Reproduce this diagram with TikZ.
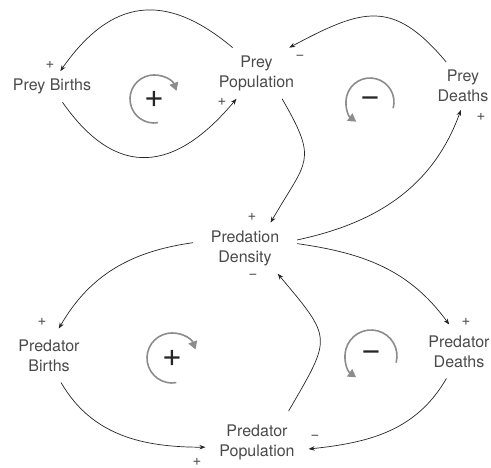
\documentclass[tikz,border=0pt]{standalone}
\usepackage{fontspec}
\setmainfont{TeX Gyre Heros}
\definecolor{TextGray}{HTML}{4A4A4A}
\definecolor{LoopGray}{HTML}{8C8C8C}
\usetikzlibrary{arrows.meta}

\begin{document}
\begin{tikzpicture}[x=1pt, y=1pt,
  var/.style={inner sep=4pt, outer sep=4pt, align=center, text=TextGray,
              font=\fontsize{16}{20}\selectfont},
  arr/.style={-{Stealth[length=6pt, width=4.5pt]}, line width=0.7pt, black!85},
  pol/.style={font=\fontsize{15}{15}\selectfont, text=TextGray, inner sep=0pt},
  sign/.style={font=\fontsize{34}{34}\selectfont, text=black!85, inner sep=0pt},
  cyc/.style={-{Triangle[length=8pt, width=9pt]}, line width=1.6pt, LoopGray},
]
  \clip (0,0) rectangle (491,468);

  % stocks and flows
  \node[var] (preybirths) at (52,381.3) {Prey Births};
  \node[var] (preypop) at (256.5,394.8) {Prey\\Population};
  \node[var] (preydeaths) at (463,382) {Prey\\Deaths};
  \node[var, inner xsep=14pt] (density) at (245,219.8) {Predation\\Density};
  \node[var, inner ysep=7pt] (predbirths) at (49,112.5) {Predator\\Births};
  \node[var, inner ysep=7pt] (preddeaths) at (459,116.5) {Predator\\Deaths};
  \node[var, inner sep=10pt] (predpop) at (257,25.3) {Predator\\Population};

  % links
  \draw[arr] (preypop.133) to[out=140, in=55, looseness=1.3] (preybirths.62);
  \draw[arr] (preybirths.-56) to[out=-55, in=230, looseness=1.4] (preypop.232);
  \draw[arr] (preydeaths.125) to[out=130, in=28, looseness=1.35] (preypop.38);
  \draw[arr] (density.9) to[out=12, in=250] (preydeaths.265);
  \draw[arr] (preypop.-45) to[out=-60, in=60, looseness=1.5] (density.45);
  \draw[arr] (density.174) to[out=188, in=60] (predbirths.70);
  \draw[arr] (density.5) to[out=-8, in=126] (preddeaths.110);
  \draw[arr] (predpop.45) to[out=60, in=-50, looseness=1.6] (density.-38);
  \draw[arr] (predbirths.-66) to[out=-60, in=180] (predpop.185);
  \draw[arr] (preddeaths.245) to[out=240, in=6] (predpop.-7);

  % link polarities
  \node[pol] (l1) at (50,403) {+};
  \node[pol] (l2) at (222,366) {+};
  \node[pol] (l3) at (300,411) {−};
  \node[pol] (l4) at (481,351) {+};
  \node[pol] (l5) at (252,251) {+};
  \node[pol] (l6) at (42,146) {+};
  \node[pol] (l7) at (466,146) {+};
  \node[pol] (l8) at (253,192) {−};
  \node[pol] (l9) at (197,6) {+};
  \node[pol] (l10) at (315,31) {−};

  % loops
  \node[sign] (r1) at (154,369) {+};
  \node[sign] (b1) at (370,366) {−};
  \node[sign] (r2) at (172,110) {+};
  \node[sign] (b2) at (371,112) {−};
  \draw[cyc] ([shift={(280:24)}]r1.center) arc[start angle=280, end angle=20, radius=24];
  \draw[cyc] ([shift={(-15:24)}]b1.center) arc[start angle=-15, end angle=235, radius=24];
  \draw[cyc] ([shift={(280:25)}]r2.center) arc[start angle=280, end angle=20, radius=25];
  \draw[cyc] ([shift={(-15:26)}]b2.center) arc[start angle=-15, end angle=235, radius=26];
\end{tikzpicture}
\end{document}
